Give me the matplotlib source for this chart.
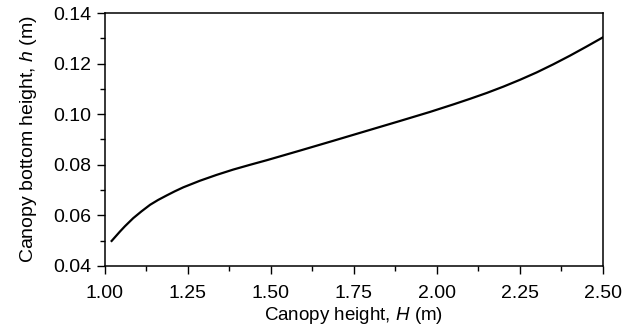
import numpy as np
import matplotlib
matplotlib.use("Agg")
import matplotlib.pyplot as plt
from matplotlib.ticker import MultipleLocator, FormatStrFormatter

plt.rcParams['font.family'] = ['Liberation Sans', 'DejaVu Sans']
plt.rcParams['mathtext.fontset'] = 'custom'
plt.rcParams['mathtext.it'] = 'Liberation Sans:italic'
plt.rcParams['mathtext.rm'] = 'Liberation Sans'

# canopy height H (m) vs canopy bottom height h (m)
H = [1.020, 1.045, 1.060, 1.085, 1.110, 1.136, 1.160, 1.186, 1.210, 1.236,
     1.286, 1.336, 1.386, 1.437, 1.487, 1.537, 1.587, 1.688, 1.788, 1.888,
     1.979, 2.050, 2.100, 2.150, 2.200, 2.250, 2.300, 2.350, 2.400, 2.450, 2.500]
h = [0.0499, 0.0536, 0.0557, 0.0589, 0.0616, 0.0642, 0.0661, 0.0679, 0.0695, 0.0711,
     0.0737, 0.0760, 0.0781, 0.0800, 0.0818, 0.0837, 0.0856, 0.0895, 0.0934, 0.0973,
     0.1009, 0.1039, 0.1061, 0.1084, 0.1109, 0.1136, 0.1165, 0.1197, 0.1231, 0.1267, 0.1304]

fig = plt.figure(figsize=(6.34, 3.30), dpi=100)
ax = fig.add_axes([0.1656, 0.194, 0.7855, 0.7666])
ax.plot(H, h, color='black', lw=1.6)

ax.set_xlim(1.0, 2.5)
ax.set_ylim(0.04, 0.14)
ax.xaxis.set_major_locator(MultipleLocator(0.25))
ax.xaxis.set_minor_locator(MultipleLocator(0.125))
ax.yaxis.set_major_locator(MultipleLocator(0.02))
ax.yaxis.set_minor_locator(MultipleLocator(0.01))
ax.xaxis.set_major_formatter(FormatStrFormatter('%.2f'))
ax.yaxis.set_major_formatter(FormatStrFormatter('%.2f'))

ax.tick_params(which='major', direction='out', length=5.5, width=1, labelsize=14)
ax.tick_params(which='minor', direction='out', length=3.5, width=1)
ax.tick_params(axis='y', which='major', pad=4.5)
ax.tick_params(axis='x', which='major', pad=8)
for s in ax.spines.values():
    s.set_linewidth(1.1)

ax.set_xlabel('Canopy height, $H$ (m)', fontsize=13.5, labelpad=2.5)
ax.set_ylabel('Canopy bottom height, $h$ (m)', fontsize=14, labelpad=10)

fig.savefig('out.png', dpi=100)
